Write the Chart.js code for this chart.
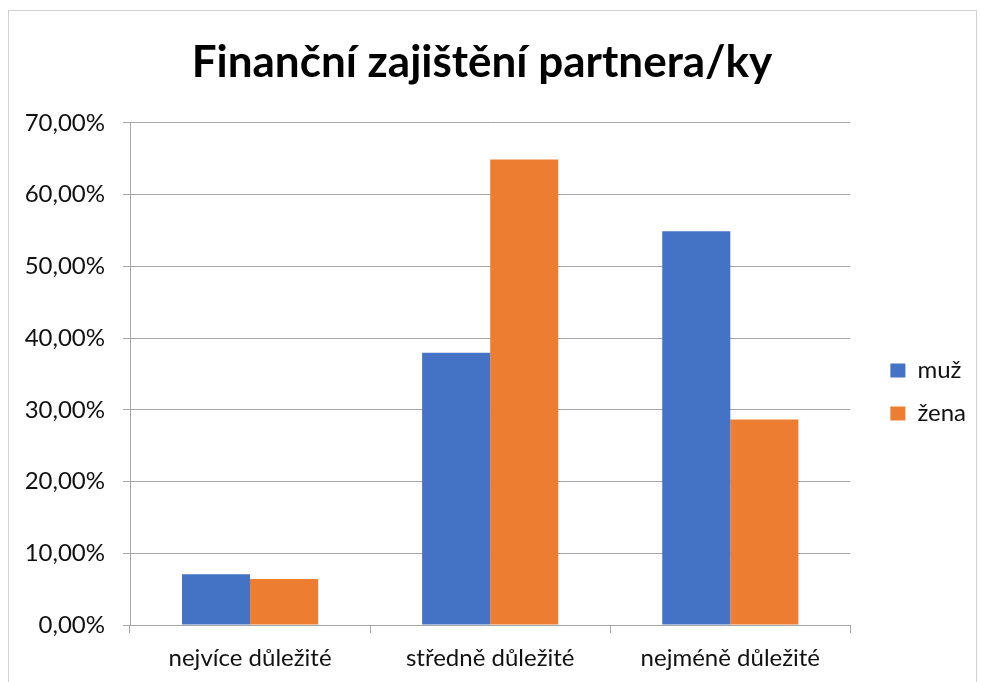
<!DOCTYPE html>
<html lang="cs">
<head>
<meta charset="utf-8">
<title>Finanční zajištění partnera/ky</title>
<script src="https://cdn.jsdelivr.net/npm/chart.js@4"></script>
<style>
  html, body { margin: 0; padding: 0; background: #fff; overflow: hidden; }
  #frame {
    position: absolute; left: 8px; top: 10px;
    width: 967px; height: 700px;
    border: 1px solid #d0d0d0; background: #fff;
  }
  #chart-box { position: relative; width: 967px; height: 671px; }
</style>
</head>
<body>
<div id="frame">
  <div id="chart-box"><canvas id="chart"></canvas></div>
</div>
<script>
// --- Data ---
const categories = ['nejvíce důležité', 'středně důležité', 'nejméně důležité'];
const seriesNames = ['muž', 'žena'];
const muzValues = [7.07, 37.95, 54.9];
const zenaValues = [6.42, 64.9, 28.66];
const yTicks = { min: 0, max: 70, step: 10 };

const BLUE = '#4472C4';
const ORANGE = '#ED7D31';
const GRID = '#a6a6a6';
const TEXT = '#111';
const FONT = 'Lato, "Open Sans", sans-serif';

// legend sits further right and lower than Chart.js puts it
const legendNudge = {
  id: 'legendNudge',
  afterLayout(chart, args, opts) {
    const lg = chart.legend;
    if (!lg) return;
    lg.left += opts.dx; lg.right += opts.dx;
    lg.top += opts.dy; lg.bottom += opts.dy;
  }
};

const fmtPct = v => v.toFixed(2).replace('.', ',') + '%';

new Chart(document.getElementById('chart'), {
  type: 'bar',
  data: {
    labels: categories,
    datasets: [
      { label: seriesNames[0], data: muzValues, backgroundColor: BLUE },
      { label: seriesNames[1], data: zenaValues, backgroundColor: ORANGE }
    ]
  },
  plugins: [legendNudge],
  options: {
    responsive: true,
    maintainAspectRatio: false,
    animation: false,
    datasets: { bar: { categoryPercentage: 0.567, barPercentage: 1 } },
    layout: { padding: { top: 0, right: 21, bottom: 0, left: 0 } },
    plugins: {
      title: {
        display: true,
        text: 'Finanční zajištění partnera/ky',
        color: '#000',
        font: { family: FONT, size: 44, weight: 'bold', lineHeight: 1.2 },
        padding: { top: 25, bottom: 34 }
      },
      legend: {
        position: 'right',
        fullSize: false,
        labels: {
          boxWidth: 15,
          boxHeight: 14,
          padding: 19,
          color: TEXT,
          font: { family: FONT, size: 24 }
        }
      },
      legendNudge: { dx: 21, dy: 18 },
      tooltip: { enabled: false }
    },
    scales: {
      x: {
        grid: { drawOnChartArea: false, color: GRID, tickLength: 8 },
        border: { display: true, color: GRID },
        ticks: { color: TEXT, padding: 11, font: { family: FONT, size: 24 } },
        afterFit: s => { s.height = 57; }
      },
      y: {
        min: yTicks.min,
        max: yTicks.max,
        grid: { color: GRID, tickLength: 7 },
        border: { display: true, color: GRID },
        ticks: {
          stepSize: yTicks.step,
          color: TEXT,
          padding: 18,
          font: { family: FONT, size: 24 },
          callback: v => fmtPct(v)
        },
        afterFit: s => { s.width = 121; }
      }
    }
  }
});
</script>
</body>
</html>
